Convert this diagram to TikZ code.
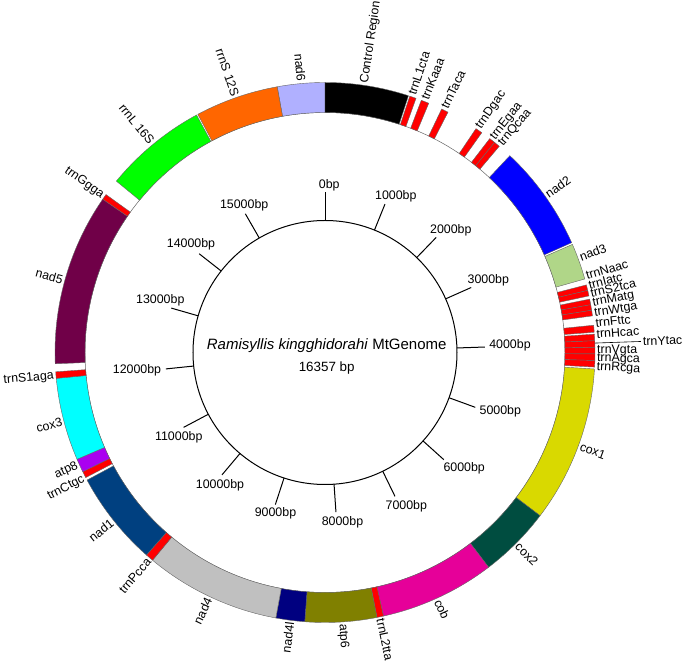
\documentclass[tikz,border=0pt]{standalone}
\usepackage{fontspec}
\setmainfont{Liberation Sans}
\definecolor{cnadsix}{RGB}{176,176,255}
\definecolor{cnadtwo}{RGB}{0,0,255}
\definecolor{cnadthree}{RGB}{176,214,136}
\definecolor{ccoxone}{RGB}{217,217,0}
\definecolor{ccoxtwo}{RGB}{0,77,64}
\definecolor{ccob}{RGB}{230,0,153}
\definecolor{catpsix}{RGB}{128,128,0}
\definecolor{cnadfourl}{RGB}{0,0,128}
\definecolor{cnadfour}{RGB}{192,192,192}
\definecolor{cnadone}{RGB}{0,64,128}
\definecolor{catpeight}{RGB}{170,0,240}
\definecolor{ccoxthree}{RGB}{0,255,255}
\definecolor{cnadfive}{RGB}{112,0,72}
\definecolor{crrnl}{RGB}{0,255,0}
\definecolor{crrns}{RGB}{255,102,0}
\definecolor{ctrn}{RGB}{255,0,0}
\tikzset{
  featbox/.style={draw=black!60, line width=0.4pt},
  lab/.style={font=\fontsize{12.4}{14}\selectfont, inner sep=0pt},
  ticklab/.style={font=\fontsize{12.4}{14}\selectfont, inner sep=0pt},
  tickline/.style={line width=1pt, black},
  leader/.style={line width=0.6pt, black}
}
\newcommand{\gfeat}[3]{\filldraw[featbox, fill=#3] ({90-(#1)}:240pt) arc[start angle={90-(#1)}, end angle={90-(#2)}, radius=240pt] -- ({90-(#2)}:270pt) arc[start angle={90-(#2)}, end angle={90-(#1)}, radius=270pt] -- cycle;}
\newcommand{\rlab}[3]{\node[lab, anchor=west, rotate={90-(#2)}] (#1) at ({90-(#2)}:272pt) {#3};}
\newcommand{\llab}[3]{\node[lab, anchor=east, rotate={270-(#2)}] (#1) at ({90-(#2)}:272pt) {#3};}
\begin{document}
\begin{tikzpicture}
\useasboundingbox (-325pt,-310.5pt) rectangle (360pt,352.5pt);
% inner ring line
\draw[black!60, line width=0.5pt] (0,0) circle[radius=240pt];
% features
\gfeat{349.8}{360}{cnadsix}
\gfeat{0}{18.0}{black}
\gfeat{18.3}{19.7}{ctrn}
\gfeat{20.9}{22.6}{ctrn}
\gfeat{25.6}{27.1}{ctrn}
\gfeat{34.0}{35.5}{ctrn}
\gfeat{37.6}{38.9}{ctrn}
\gfeat{38.9}{40.2}{ctrn}
\gfeat{43.2}{66.0}{cnadtwo}
\gfeat{66.4}{74.2}{cnadthree}
\gfeat{75.5}{76.7}{ctrn}
\gfeat{76.7}{77.9}{ctrn}
\gfeat{78.6}{79.8}{ctrn}
\gfeat{79.8}{81.0}{ctrn}
\gfeat{81.0}{82.2}{ctrn}
\gfeat{84.2}{85.7}{ctrn}
\gfeat{86.1}{87.5}{ctrn}
\gfeat{87.5}{88.9}{ctrn}
\gfeat{88.9}{90.3}{ctrn}
\gfeat{90.3}{91.7}{ctrn}
\gfeat{91.7}{93.1}{ctrn}
\gfeat{93.5}{127.2}{ccoxone}
\gfeat{127.2}{142.7}{ccoxtwo}
\gfeat{142.7}{167.5}{ccob}
\gfeat{167.5}{168.9}{ctrn}
\gfeat{168.9}{184.3}{catpsix}
\gfeat{184.3}{190.5}{cnadfourl}
\gfeat{190.5}{219.7}{cnadfour}
\gfeat{219.7}{221.4}{ctrn}
\gfeat{221.4}{241.8}{cnadone}
\gfeat{242.4}{243.8}{ctrn}
\gfeat{243.8}{246.7}{catpeight}
\gfeat{246.7}{264.5}{ccoxthree}
\gfeat{264.5}{265.9}{ctrn}
\gfeat{267.6}{304.6}{cnadfive}
\gfeat{304.6}{305.8}{ctrn}
\gfeat{309.4}{331.6}{crrnl}
\gfeat{331.9}{349.8}{crrns}
% feature labels, right half
\rlab{lcr}{8.4}{Control Region}
\rlab{ltrnL}{18.6}{trnL1cta}
\rlab{ltrnK}{21.5}{trnKaaa}
\rlab{ltrnT}{26.0}{trnTaca}
\rlab{ltrnD}{34.4}{trnDgac}
\rlab{ltrnE}{38.1}{trnEgaa}
\rlab{ltrnQ}{40.2}{trnQcaa}
\rlab{lnadtwo}{54.5}{nad2}
\rlab{lnadthree}{69.5}{nad3}
\rlab{ltrnN}{73.6}{trnNaac}
\rlab{ltrnI}{75.7}{trnIatc}
\rlab{ltrnS}{77.4}{trnS2tca}
\rlab{ltrnM}{79.6}{trnMatg}
\rlab{ltrnW}{81.7}{trnWtga}
\rlab{ltrnF}{83.8}{trnFttc}
\rlab{ltrnH}{86.1}{trnHcac}
\rlab{ltrnV}{89.6}{trnVgta}
\rlab{ltrnA}{91.3}{trnAgca}
\rlab{ltrnR}{93.1}{trnRcga}
\rlab{lcoxone}{110.2}{cox1}
\rlab{lcoxtwo}{135.0}{cox2}
\rlab{lcob}{155.5}{cob}
\rlab{ltrnLtwo}{168.2}{trnL2tta}
\rlab{latpsix}{176.3}{atp6}
% leader for trnYtac
\coordinate (yin) at ({90-88}:270pt);
\coordinate (yout) at ({90-88}:316pt);
\node[lab, anchor=west, rotate=2] (ltrnY) at ({90-88}:318pt) {trnYtac};
\draw[leader] (yin) -- (yout);
% feature labels, left half
\llab{lnadfourl}{187.4}{nad4l}
\llab{lnadfour}{205.3}{nad4}
\llab{ltrnP}{220.4}{trnPcca}
\llab{lnadone}{231.5}{nad1}
\llab{ltrnC}{242.4}{trnCtgc}
\llab{latpeight}{245.5}{atp8}
\llab{lcoxthree}{255.2}{cox3}
\llab{ltrnSone}{265.0}{trnS1aga}
\llab{lnadfive}{285.5}{nad5}
\llab{ltrnG}{305.2}{trnGgga}
\llab{lrrnl}{320.5}{rrnL 16S}
\llab{lrrns}{340.8}{rrnS 12S}
\llab{lnadsix}{355.0}{nad6}
% inner scale circle and ticks
\draw[tickline] (0,0) circle[radius=132pt];
\foreach \k in {0,...,15}{
  \draw[tickline] ({90-\k*22.00892}:132pt) -- ({90-\k*22.00892}:160pt);
}
\node[ticklab] (tzero) at (4.2pt,167.5pt) {0bp};
\node[ticklab] (tone) at (70.8pt,155.8pt) {1000bp};
\node[ticklab] (ttwo) at (125.8pt,122.5pt) {2000bp};
\node[ticklab] (tthree) at (163.3pt,72.5pt) {3000bp};
\node[ticklab] (tfour) at (185pt,6.8pt) {4000bp};
\node[ticklab] (tfive) at (175.3pt,-59.2pt) {5000bp};
\node[ticklab] (tsix) at (139.2pt,-115.8pt) {6000bp};
\node[ticklab] (tseven) at (81.3pt,-154.2pt) {7000bp};
\node[ticklab] (teight) at (17.5pt,-169.8pt) {8000bp};
\node[ticklab] (tnine) at (-49.5pt,-160.8pt) {9000bp};
\node[ticklab] (tten) at (-105pt,-132.5pt) {10000bp};
\node[ticklab] (televen) at (-146.2pt,-84.8pt) {11000bp};
\node[ticklab] (ttwelve) at (-188pt,-18.2pt) {12000bp};
\node[ticklab] (tthirteen) at (-164.7pt,52.5pt) {13000bp};
\node[ticklab] (tfourteen) at (-134pt,108.5pt) {14000bp};
\node[ticklab] (tfifteen) at (-80.8pt,147.5pt) {15000bp};
% title
\node[inner sep=0pt, font=\fontsize{15}{18}\selectfont] (title) at (1.7pt,6.5pt) {\textit{Ramisyllis kingghidorahi} MtGenome};
\node[inner sep=0pt, font=\fontsize{13.4}{16}\selectfont] (size) at (1.7pt,-15.8pt) {16357 bp};
\end{tikzpicture}
\end{document}
